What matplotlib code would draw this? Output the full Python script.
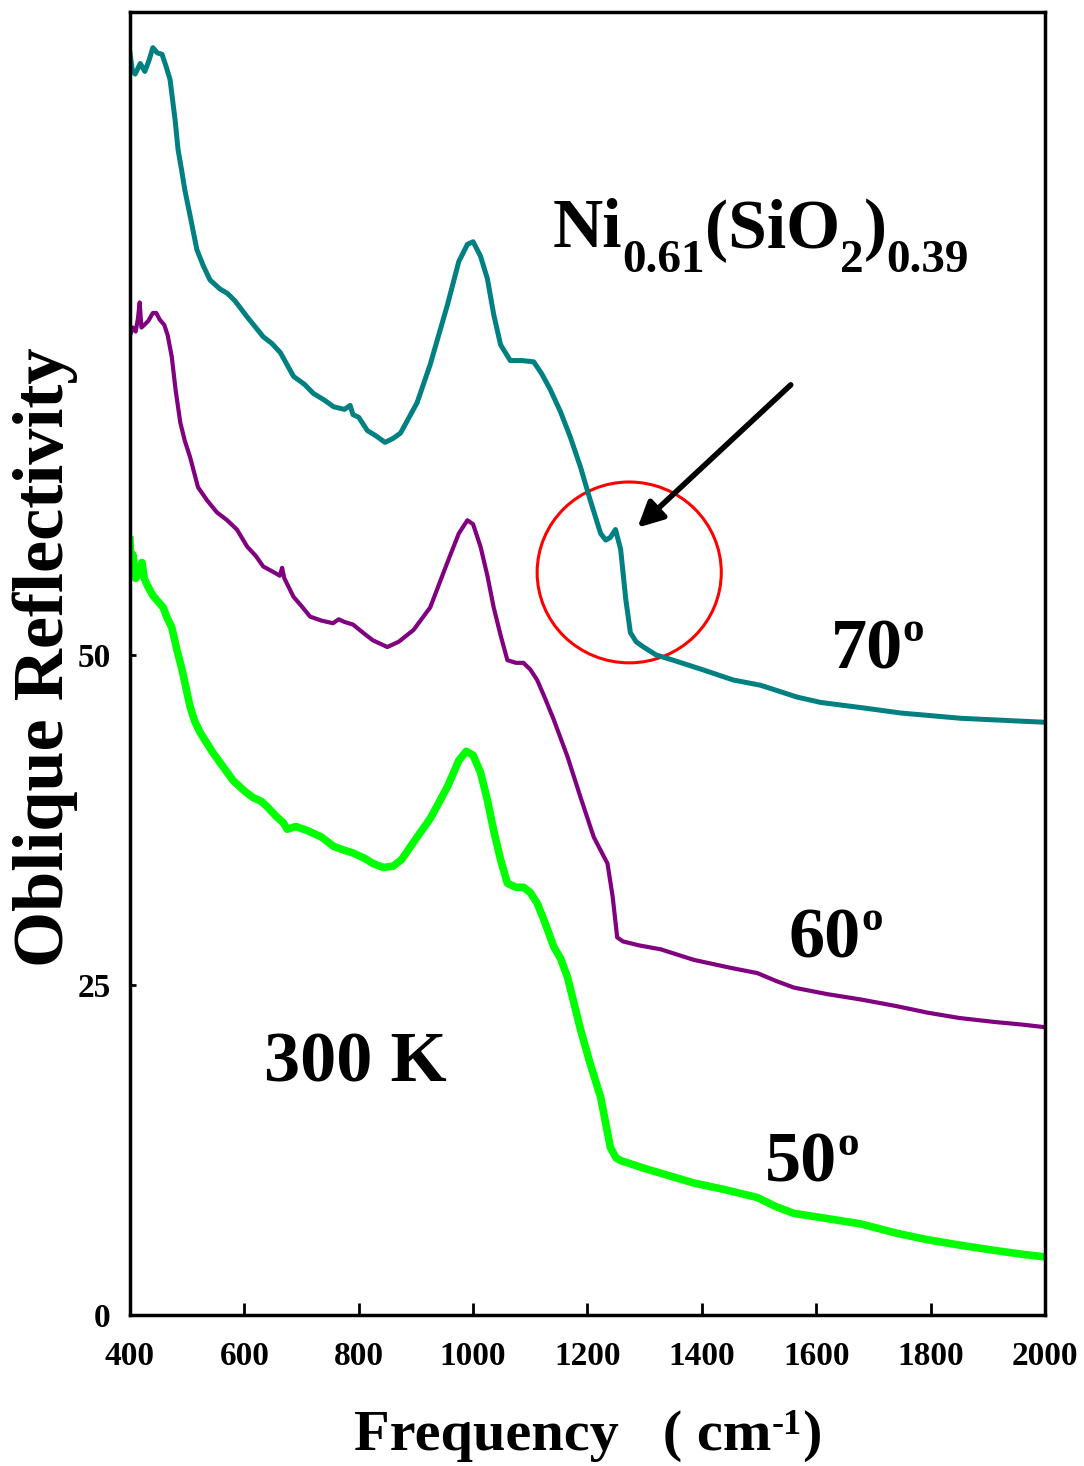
import matplotlib
matplotlib.use('Agg')
import matplotlib.pyplot as plt
from matplotlib.patches import Ellipse
from matplotlib.transforms import offset_copy

plt.rcParams['font.family'] = 'Liberation Serif'
plt.rcParams['font.weight'] = 'bold'

# 70 deg
freq_70 = [400, 404, 409, 418, 426, 433, 440, 448, 456, 463, 470, 479, 484, 490, 496,
           505, 517, 528, 540, 558, 570, 584, 605, 620, 633, 648, 663, 686, 705, 721,
           740, 756, 775, 785, 790, 800, 815, 830, 846, 860, 873, 902, 925, 955, 975,
           990, 1000, 1013, 1025, 1036, 1048, 1065, 1085, 1106, 1120, 1135, 1153, 1170,
           1188, 1205, 1223, 1232, 1240, 1249, 1258, 1267, 1275, 1285, 1298, 1320, 1350,
           1400, 1455, 1503, 1567, 1608, 1680, 1748, 1853, 1950, 2000]
refl_70 = [95.6, 94.3, 94.0, 94.8, 94.2, 95.0, 96.0, 95.6, 95.5, 94.6, 93.6, 90.5, 88.3, 86.8, 85.2,
           83.3, 80.7, 79.5, 78.4, 77.7, 77.4, 76.8, 75.6, 74.8, 74.1, 73.6, 72.9, 71.1, 70.5, 69.8,
           69.3, 68.8, 68.6, 68.9, 68.2, 68.0, 67.0, 66.6, 66.1, 66.4, 66.8, 69.1, 72.0, 76.5, 79.8,
           81.1, 81.3, 80.2, 78.5, 75.8, 73.5, 72.3, 72.3, 72.2, 71.3, 70.1, 68.4, 66.5,
           64.2, 61.7, 59.2, 58.7, 58.9, 59.5, 58.0, 54.2, 51.7, 51.0, 50.6, 50.0, 49.6,
           48.9, 48.1, 47.7, 46.8, 46.4, 46.0, 45.6, 45.2, 45.0, 44.9]

# 60 deg
freq_60 = [400, 405, 410, 414, 417, 420, 425, 432, 440, 446, 452, 460, 466, 473, 480,
           488, 496, 505, 519, 535, 552, 570, 587, 605, 620, 633, 650, 662, 666, 670,
           686, 700, 715, 735, 755, 765, 775, 790, 810, 825, 850, 870, 896, 925, 955,
           975, 990, 1000, 1013, 1025, 1036, 1048, 1060, 1075, 1088, 1100, 1112, 1125,
           1141, 1165, 1188, 1211, 1235, 1244, 1252, 1262, 1290, 1328, 1386, 1450, 1497,
           1530, 1561, 1620, 1678, 1740, 1795, 1850, 1911, 1960, 2000]
refl_60 = [74.2, 74.8, 74.5, 75.5, 76.7, 74.8, 75.0, 75.3, 75.9, 75.9, 75.4, 75.0, 74.2, 72.6, 70.0,
           67.6, 66.2, 65.0, 62.7, 61.7, 60.8, 60.2, 59.5, 58.2, 57.5, 56.7, 56.3, 56.0, 56.6, 55.8,
           54.4, 53.7, 52.9, 52.6, 52.4, 52.7, 52.5, 52.3, 51.6, 51.1, 50.6, 51.0, 51.9, 53.6, 57.0,
           59.2, 60.2, 59.9, 58.2, 56.0, 53.6, 51.5, 49.6, 49.4, 49.4, 48.9, 48.1, 46.8,
           45.1, 42.3, 39.2, 36.2, 34.2, 31.7, 28.6, 28.3, 28.0, 27.7, 26.9, 26.3, 25.9,
           25.3, 24.8, 24.3, 23.9, 23.4, 22.9, 22.5, 22.2, 22.0, 21.8]

# 50 deg
freq_50 = [400, 402, 405, 410, 415, 421, 425, 430, 440, 450, 458, 465, 473, 482, 491,
           498, 505, 513, 523, 545, 560, 580, 600, 615, 630, 640, 655, 668, 675, 690,
           710, 735, 756, 775, 790, 810, 825, 843, 860, 875, 902, 925, 955, 975, 988,
           1000, 1013, 1025, 1036, 1048, 1060, 1075, 1088, 1100, 1112, 1125, 1141, 1153,
           1165, 1188, 1205, 1223, 1240, 1250, 1258, 1300, 1386, 1440, 1497, 1530, 1561,
           1620, 1678, 1740, 1795, 1850, 1911, 1960, 2000]
refl_50 = [58.7, 56.5, 57.6, 55.8, 56.2, 57.0, 55.8, 55.3, 54.5, 54.0, 53.6, 52.8, 52.1, 50.4, 48.9,
           47.5, 46.1, 45.0, 44.1, 42.6, 41.7, 40.5, 39.7, 39.2, 38.9, 38.5, 37.8, 37.3, 36.8, 37.0,
           36.7, 36.2, 35.5, 35.2, 35.0, 34.6, 34.2, 33.9, 34.0, 34.5, 36.2, 37.6, 40.0, 42.0, 42.7,
           42.4, 41.1, 39.0, 36.7, 34.5, 32.7, 32.4, 32.4, 32.0, 31.2, 29.8, 27.9, 27.0,
           25.6, 21.6, 19.0, 16.5, 12.7, 11.9, 11.7, 11.1, 10.0, 9.5, 8.9, 8.2, 7.7,
           7.3, 6.9, 6.2, 5.7, 5.3, 4.9, 4.6, 4.4]

x_ticks = [400, 600, 800, 1000, 1200, 1400, 1600, 1800, 2000]
y_ticks = [0, 25, 50]

fig = plt.figure(figsize=(10.84, 14.66), dpi=100)
ax = fig.add_axes([0.1199, 0.103, 0.8441, 0.8888])
renderer = fig.canvas.get_renderer()


def rich_text(x, y, parts, trans):
    """Draw pieces (text, size, raise_px) side by side, centred on x, baseline y."""
    texts, widths = [], []
    for s, size, dy in parts:
        t = ax.text(x, y, s, fontsize=size, ha='left', va='baseline',
                    transform=trans, clip_on=False)
        widths.append(t.get_window_extent(renderer).width)
        texts.append(t)
    off = -sum(widths) / 2
    for t, w, (s, size, dy) in zip(texts, widths, parts):
        t.set_transform(offset_copy(trans, fig=fig, x=off, y=dy, units='dots'))
        off += w


ax.plot(freq_70, refl_70, color='#008080', lw=3.6)
ax.plot(freq_60, refl_60, color='#800080', lw=3.0)
ax.plot(freq_50, refl_50, color='#00FF00', lw=5.5)

ax.set_xlim(400, 2000)
ax.set_ylim(0, 98.7)
ax.set_xticks(x_ticks)
ax.set_yticks(y_ticks)
ax.tick_params(axis='x', direction='in', length=9, width=2, pad=19, labelsize=24)
ax.tick_params(axis='y', direction='in', length=4, width=2, pad=14, labelsize=24)
for s in ax.spines.values():
    s.set_linewidth(2.5)

# highlighted feature
ax.add_patch(Ellipse((1273, 56.25), width=322, height=13.7, fill=False,
                     ec='red', lw=2.2))
ax.annotate('', xy=(1284, 59.5), xytext=(1559, 70.6),
            arrowprops=dict(arrowstyle='-|>', color='black', lw=4,
                            mutation_scale=38))

rich_text(1503, 80.9, [('Ni', 50, 0), ('0.61', 34, -25), ('(SiO', 50, 0),
                       ('2', 34, -25), (')', 50, 0), ('0.39', 34, -25)], ax.transData)
rich_text(1707, 49.0, [('70', 52, 0), ('o', 31, 27)], ax.transData)
rich_text(1634, 27.1, [('60', 52, 0), ('o', 31, 27)], ax.transData)
rich_text(1593, 10.1, [('50', 52, 0), ('o', 31, 27)], ax.transData)
rich_text(794, 17.65, [('300 K', 52, 0)], ax.transData)

fig.text(45 / 1084, 1 - 657 / 1466, 'Oblique Reflectivity', fontsize=52,
         rotation=90, ha='center', va='center')
rich_text(588 / 1084, 1 - 1450 / 1466,
          [('Frequency   ( cm', 42, 0), ('-1', 26, 16), (')', 42, 0)], fig.transFigure)

fig.savefig('out.png', dpi=100, facecolor='white')
